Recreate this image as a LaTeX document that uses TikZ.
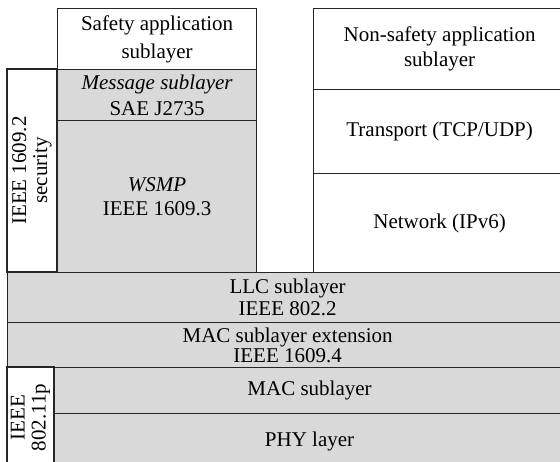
\documentclass[tikz,border=0pt]{standalone}
\usepackage{fontspec}
\setmainfont{Liberation Serif}
\begin{document}
\begin{tikzpicture}[x=1pt,y=-1pt,
  layer/.style={draw=black!85, line width=1.2pt, fill=white, inner sep=0pt,
    align=center, anchor=north west, font=\fontsize{21}{22}\selectfont},
  shaded/.style={layer, fill=black!15},
  vlayer/.style={layer, anchor=center, rotate=90}]
\useasboundingbox (0,0) rectangle (560,461);
\clip (0,0) rectangle (560,461);

% safety stack
\node[layer, minimum width=199, minimum height=61,
  font=\fontsize{21}{28}\selectfont] (safety) at (57,8)
  {Safety application\\sublayer};
\node[shaded, minimum width=199, minimum height=51,
  font=\fontsize{21}{26}\selectfont] (msg) at (57,69)
  {\textit{Message sublayer}\\SAE J2735};
\node[shaded, minimum width=199, minimum height=152,
  font=\fontsize{21}{24}\selectfont] (wsmp) at (57,120)
  {\textit{WSMP}\\IEEE 1609.3};
\node[vlayer, minimum width=203, minimum height=50,
  font=\fontsize{21}{21}\selectfont] (sec) at (32,170.5)
  {IEEE 1609.2\\security};

% non-safety stack
\node[layer, minimum width=252, minimum height=81,
  font=\fontsize{21}{25}\selectfont] (nonsafety) at (313,8)
  {Non-safety application\\sublayer};
\node[layer, minimum width=252, minimum height=84] (transport) at (313,89)
  {Transport (TCP/UDP)};
\node[layer, minimum width=252, minimum height=99] (network) at (313,173)
  {Network (IPv6)};

% shared lower layers
\node[shaded, minimum width=560, minimum height=50] (llc) at (7,272)
  {LLC sublayer\\IEEE 802.2};
\node[shaded, minimum width=560, minimum height=45,
  font=\fontsize{21}{20}\selectfont] (macext) at (7,322)
  {MAC sublayer extension\\IEEE 1609.4};
\node[shaded, minimum width=510, minimum height=46] (mac) at (54,367)
  {MAC sublayer};
\node[shaded, minimum width=510, minimum height=55] (phy) at (54,413)
  {PHY layer};
\node[vlayer, minimum width=101, minimum height=47,
  font=\fontsize{21}{21}\selectfont] (wave) at (30.5,417.5)
  {IEEE\\802.11p};
\end{tikzpicture}
\end{document}
